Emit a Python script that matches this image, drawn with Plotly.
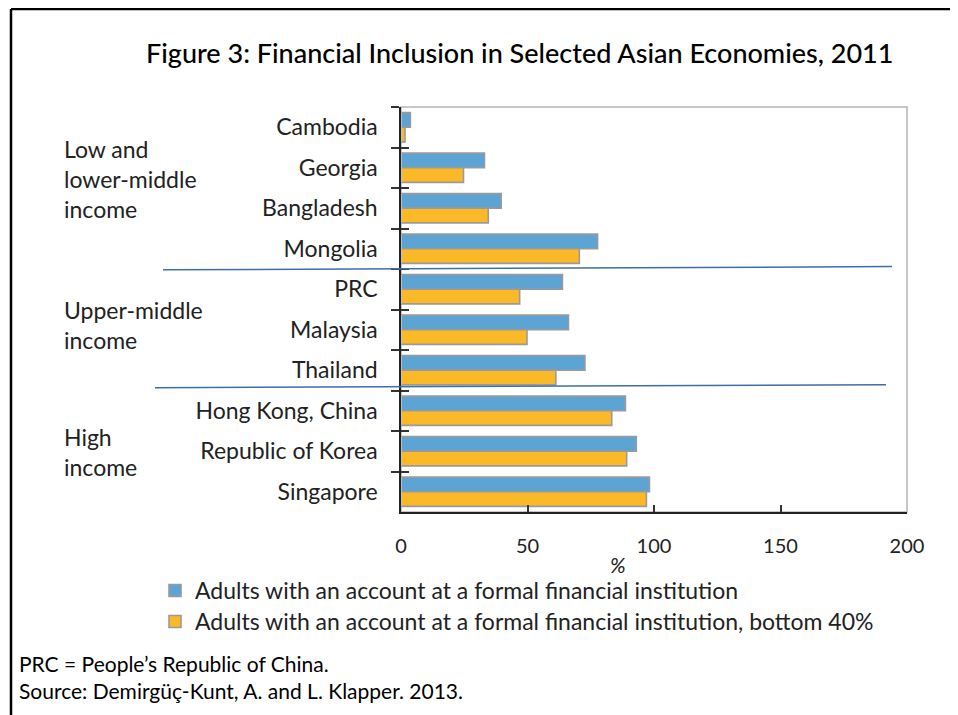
import plotly.graph_objects as go

categories = ["Cambodia", "Georgia", "Bangladesh", "Mongolia", "PRC", "Malaysia",
              "Thailand", "Hong Kong, China", "Republic of Korea", "Singapore"]
account_all = [3.7, 33.0, 39.6, 77.7, 63.8, 66.2, 72.7, 88.7, 93.0, 98.2]
account_bottom40 = [1.6, 24.7, 34.5, 70.5, 46.9, 49.8, 61.2, 83.3, 89.2, 97.0]
series_names = ["Adults with an account at a formal financial institution",
                "Adults with an account at a formal financial institution, bottom 40%"]
x_ticks = [0, 50, 100, 150, 200]
group_labels = ["Low and<br>lower-middle<br>income", "Upper-middle<br>income", "High<br>income"]

FONT = "Lato"
TXT = "#222222"

# the page adds an 8px body margin; work in window pixels and convert
OFF = 8
FW, FH = 958 - OFF, 715 - OFF
# plot area in window pixels: x 401..907, y 107..512
L, R, T, B = 401, 907, 107, 512
W, H = R - L, B - T
def px(x):
    return (x - L) / W
def py(y):
    return (B - y) / H

fig = go.Figure()
fig.add_trace(go.Bar(y=categories, x=account_all, orientation="h", name=series_names[0],
                     legend="legend",
                     marker=dict(color="#5BA4D3", line=dict(color="#9A9A9A", width=1.6))))
fig.add_trace(go.Bar(y=categories, x=account_bottom40, orientation="h", name=series_names[1],
                     legend="legend2",
                     marker=dict(color="#FBB927", line=dict(color="#9A9A9A", width=1.6))))
# invisible helper trace so the overlay axis can draw inside tick marks
fig.add_trace(go.Bar(y=categories, x=[0] * len(categories), orientation="h", yaxis="y2",
                     marker=dict(color="rgba(0,0,0,0)"), showlegend=False, hoverinfo="skip"))

shapes = []
shapes.append(dict(type="rect", xref="paper", yref="paper", x0=0, x1=1, y0=0, y1=1,
                   line=dict(color="#B5B5B5", width=1.5), layer="below"))
shapes.append(dict(type="line", xref="paper", yref="y", x0=px(163), x1=px(892), y0=3.52, y1=3.44,
                   line=dict(color="#3D6FA8", width=1.5)))
shapes.append(dict(type="line", xref="paper", yref="y", x0=px(155), x1=px(886), y0=6.43, y1=6.36,
                   line=dict(color="#3D6FA8", width=1.5)))
shapes.append(dict(type="line", xref="paper", yref="paper", x0=px(11), x1=px(960), y0=py(9), y1=py(9),
                   line=dict(color="#000000", width=2.5)))
shapes.append(dict(type="line", xref="paper", yref="paper", x0=px(11), x1=px(11), y0=py(9), y1=py(720),
                   line=dict(color="#000000", width=2.5)))

annotations = []
annotations.append(dict(text="Figure 3: Financial Inclusion in Selected Asian Economies, 2011",
                        xref="paper", yref="paper", x=px(519), y=py(52), showarrow=False,
                        xanchor="center", yanchor="middle",
                        font=dict(family=FONT, size=27, color="#000", weight=500)))
group_centers = [179, 325, 452]
for lab, yc in zip(group_labels, group_centers):
    annotations.append(dict(text=lab, xref="paper", yref="paper", x=px(62), y=py(yc), showarrow=False,
                            xanchor="left", yanchor="middle", align="left",
                            font=dict(family=FONT, size=23, color=TXT)))
annotations.append(dict(text="<i>%</i>", xref="paper", yref="paper", x=px(618), y=py(564), showarrow=False,
                        xanchor="center", yanchor="middle", font=dict(family=FONT, size=21, color=TXT)))
annotations.append(dict(text="PRC = People’s Republic of China.", xref="paper", yref="paper",
                        x=px(17), y=py(663), showarrow=False, xanchor="left", yanchor="middle",
                        font=dict(family=FONT, size=21, color="#000")))
annotations.append(dict(text="Source: Demirgüç-Kunt, A. and L. Klapper. 2013.", xref="paper", yref="paper",
                        x=px(17), y=py(690), showarrow=False, xanchor="left", yanchor="middle",
                        font=dict(family=FONT, size=21, color="#000")))

legend_style = dict(xanchor="left", yanchor="top", orientation="v",
                    font=dict(family=FONT, size=23, color=TXT), bgcolor="rgba(0,0,0,0)")

fig.update_layout(
    width=FW, height=FH,
    margin=dict(l=L - OFF, r=958 - R, t=T - OFF, b=715 - B),
    paper_bgcolor="white", plot_bgcolor="white",
    barmode="group", bargap=0.28, bargroupgap=0,
    showlegend=True,
    legend=dict(x=px(155), y=py(569), **legend_style),
    legend2=dict(x=px(155), y=py(600), **legend_style),
    xaxis=dict(range=[0, 200], tickvals=x_ticks, ticktext=[str(v) for v in x_ticks],
               ticks="inside", ticklen=7, tickcolor="#333", tickwidth=1.5,
               showline=True, linecolor="#222", linewidth=1.5, showgrid=False, zeroline=False,
               ticklabelstandoff=15, tickfont=dict(family=FONT, size=20, color=TXT), fixedrange=True),
    yaxis=dict(type="category", categoryorder="array", categoryarray=categories, autorange="reversed",
               tickson="boundaries", ticks="outside", ticklen=8, tickcolor="#333", tickwidth=1.5,
               showline=True, linecolor="#222", linewidth=1.5, showgrid=False,
               ticklabelstandoff=17, tickfont=dict(family=FONT, size=23, color=TXT)),
    yaxis2=dict(type="category", categoryorder="array", categoryarray=categories, autorange="reversed",
                overlaying="y", side="left", anchor="x", tickson="boundaries", ticks="inside", ticklen=8,
                tickcolor="#333", tickwidth=1.5, showticklabels=False, showline=False, showgrid=False),
    shapes=shapes, annotations=annotations,
)

fig.write_html("out.html")
